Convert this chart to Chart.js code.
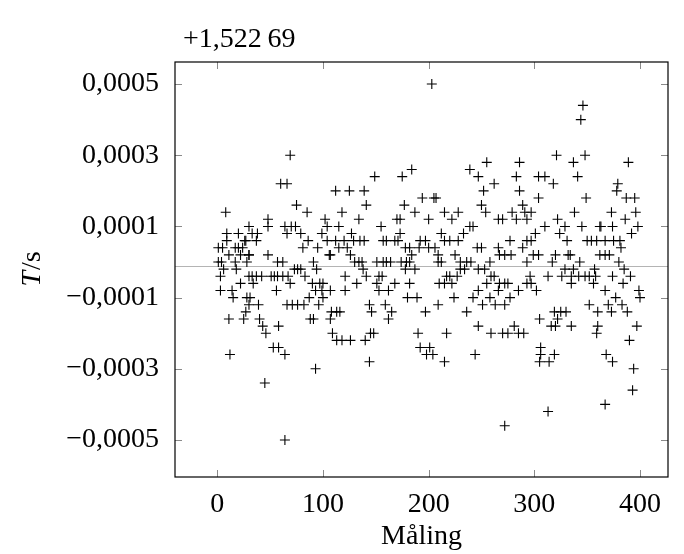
<!DOCTYPE html>
<html><head><meta charset="utf-8">
<script src="https://cdn.jsdelivr.net/npm/chart.js@4.4.0/dist/chart.umd.min.js"></script>
<style>html,body{margin:0;padding:0;background:#fff}canvas{display:block}</style>
</head><body>
<canvas id="c" width="684" height="554"></canvas>
<script>
// Measurement number (x) and deviation from offset, in units of 1e-5 s (y)
const measurement = [
 8,9,20,30,9,27,1,5,17,20,24,11,22,30,1,4,17,28,6,18,3,30,22,3,14,15,30,27,11,25,12,
 69,60,66,48,48,64,33,38,26,37,66,30,48,57,62,51,54,57,62,67,33,37,42,34,56,31,28,39,66,40,43,46,58,53,58,64,45,64,
 75,85,102,104,70,74,79,86,81,95,99,104,106,91,73,76,79,83,94,69,90,97,100,93,99,87,100,96,71,76,82,88,91,93,
 112,125,139,141,118,134,115,127,112,120,129,135,139,115,123,107,126,130,134,137,138,141,121,132,107,121,144,108,113,116,107,109,113,118,126,140,144,
 149,175,177,170,173,155,173,157,160,168,171,178,151,157,160,164,174,179,178,153,156,151,153,162,168,180,159,146,165,162,145,148,
 203,184,194,205,207,187,200,215,212,192,197,206,191,200,215,182,184,209,182,187,209,212,217,215,182,210,189,209,197,190,217,192,201,198,204,215,
 255,239,247,252,250,254,228,222,242,239,233,220,228,246,250,225,230,236,240,230,234,253,247,220,227,222,255,247,242,251,224,236,247,244,
 286,283,262,286,289,291,266,270,279,283,293,277,293,266,289,267,272,278,258,293,259,262,267,272,275,293,266,285,258,277,263,272,259,270,275,281,285,290,272,
 321,304,310,318,304,297,322,329,310,324,301,297,331,299,304,320,332,317,329,296,313,326,297,302,319,325,330,322,305,316,320,306,306,305,314,319,313,
 346,344,348,337,341,349,338,373,345,362,363,374,350,354,359,367,375,334,362,367,371,343,337,357,335,342,348,352,358,374,335,356,367,352,370,360,373,335,360,359,368,374,367,
 377,378,379,380,381,382,383,384,385,386,387,388,389,390,391,392,393,394,395,396,397,398,399,400
];
const deviationE5 = [
 14,8,8,10,6,6,4,4,4,4,4,2,2,2,0,0,0,0,-2,-2,-4,-4,-6,-8,-8,-10,-12,-14,-16,-16,-26,
 30,22,22,12,10,10,8,8,6,6,8,2,2,0,0,-4,-4,-4,-4,-4,-4,-4,-4,-6,-8,-10,-10,-12,-12,-16,-18,-20,-18,-24,-24,-26,-34,-50,
 16,14,12,10,10,10,8,6,4,4,8,6,2,0,-2,-2,-2,-4,-2,-6,-6,-6,-6,-8,-8,-10,-10,-12,-12,-12,-12,-16,-16,-30,
 20,20,20,16,14,12,10,8,6,6,6,6,6,4,4,2,2,0,0,0,-2,-4,-4,-6,-8,-8,-12,-14,-14,-14,-16,-20,-22,-22,-22,-22,-28,
 24,24,16,12,12,10,8,6,6,6,6,4,0,0,0,0,0,0,-2,-4,-4,-6,-8,-8,-6,-10,-12,-14,-14,-16,-20,-20,
 50,26,18,18,18,14,12,14,8,6,6,4,4,4,6,4,2,2,0,-2,0,0,-4,-6,-6,-6,-10,-12,-14,-20,-20,-24,-24,-26,-26,-28,
 28,26,24,20,16,14,14,12,10,10,8,6,6,4,4,2,0,0,0,-2,-2,-2,-2,-4,-4,-6,-6,-8,-10,-12,-10,-14,-18,-26,
 28,24,22,20,16,14,12,12,14,12,12,6,6,4,4,2,2,2,0,0,-4,-4,-6,-6,-6,-6,-8,-8,-10,-10,-12,-12,-20,-20,-20,-18,-20,-20,-46,
 30,24,24,22,18,14,12,10,10,8,8,6,6,2,2,2,2,0,-2,-4,-4,-4,-6,-8,-14,-14,-14,-16,-16,-18,-18,-24,-26,-28,-28,-26,-42,
 44,40,30,28,24,18,14,14,10,10,10,10,6,6,6,6,6,2,2,2,2,0,-2,-2,-4,-4,-4,-4,-4,-4,-6,-6,-8,-12,-12,-14,-14,-18,-18,-20,-26,-28,-40,
 -10,20,22,0,6,4,-12,-6,-2,12,18,-14,28,-22,-4,8,-36,-30,18,14,-18,10,-8,-10
];
const unitE5 = 1e-5;
const meanLevel = -0.00001;
const xTicks = [0, 100, 200, 300, 400];
const xTickLabels = ['0', '100', '200', '300', '400'];
const yTicks = [-0.0005, -0.0003, -0.0001, 0.0001, 0.0003, 0.0005];
const yTickLabels = ['\u22120,0005', '\u22120,0003', '\u22120,0001', '0,0001', '0,0003', '0,0005'];
const offsetLabel = '+1,522\u200969';
const xTitle = 'M\u00e5ling';
const yTitleVar = 'T';
const yTitleUnit = '/s';

const FONT = "'Liberation Serif', 'DejaVu Serif', serif";
const points = measurement.map((m, i) => ({ x: m, y: deviationE5[i] * unitE5 }));

const decor = {
  id: 'decor',
  beforeDatasetsDraw(chart) {
    const { ctx, chartArea: a, scales } = chart;
    const y = Math.round(scales.y.getPixelForValue(meanLevel)) + 0.5;
    ctx.save();
    ctx.strokeStyle = '#b4b4b4';
    ctx.lineWidth = 1;
    ctx.beginPath(); ctx.moveTo(a.left, y); ctx.lineTo(a.right, y); ctx.stroke();
    ctx.restore();
  },
  afterDraw(chart) {
    const { ctx, chartArea: a, scales } = chart;
    ctx.save();
    ctx.strokeStyle = '#8a8a8a';
    ctx.lineWidth = 1;
    const L = 7;
    xTicks.forEach(v => {
      const px = Math.round(scales.x.getPixelForValue(v)) + 0.5;
      ctx.beginPath();
      ctx.moveTo(px, a.bottom); ctx.lineTo(px, a.bottom - L);
      ctx.moveTo(px, a.top); ctx.lineTo(px, a.top + L);
      ctx.stroke();
    });
    yTicks.forEach(v => {
      const py = Math.round(scales.y.getPixelForValue(v)) + 0.5;
      ctx.beginPath();
      ctx.moveTo(a.left, py); ctx.lineTo(a.left + L, py);
      ctx.moveTo(a.right, py); ctx.lineTo(a.right - L, py);
      ctx.stroke();
    });
    ctx.strokeStyle = '#000';
    ctx.lineWidth = 1.2;
    ctx.strokeRect(a.left, a.top, a.right - a.left, a.bottom - a.top);
    ctx.fillStyle = '#000';
    ctx.font = `28px ${FONT}`;
    ctx.textBaseline = 'alphabetic';
    ctx.textAlign = 'left';
    ctx.fillText(offsetLabel, a.left + 8, 47);
    ctx.textAlign = 'center';
    ctx.fillText(xTitle, (a.left + a.right) / 2, 544);
    ctx.translate(40, (a.top + a.bottom) / 2);
    ctx.rotate(-Math.PI / 2);
    ctx.textAlign = 'left';
    ctx.font = `italic 28px ${FONT}`;
    const w1 = ctx.measureText(yTitleVar).width;
    ctx.font = `28px ${FONT}`;
    const w2 = ctx.measureText(yTitleUnit).width;
    const start = -(w1 + w2) / 2;
    ctx.font = `italic 28px ${FONT}`;
    ctx.fillText(yTitleVar, start, 0);
    ctx.font = `28px ${FONT}`;
    ctx.fillText(yTitleUnit, start + w1 + 1, 0);
    ctx.restore();
  }
};

new Chart(document.getElementById('c'), {
  type: 'scatter',
  data: {
    datasets: [{
      data: points,
      pointStyle: 'cross',
      pointRadius: 5,
      pointHoverRadius: 5,
      borderColor: '#000',
      backgroundColor: '#000',
      borderWidth: 1.1
    }]
  },
  options: {
    responsive: false,
    animation: false,
    events: [],
    layout: { padding: { top: 62, right: 16, left: 0, bottom: 0 } },
    plugins: { legend: { display: false }, tooltip: { enabled: false } },
    scales: {
      x: {
        type: 'linear', min: -40, max: 426.5,
        grid: { display: false }, border: { display: false },
        afterBuildTicks: s => { s.ticks = xTicks.map(v => ({ value: v })); },
        afterFit: s => { s.height = 77; },
        ticks: {
          callback: v => xTickLabels[xTicks.indexOf(v)],
          font: { family: FONT, size: 28 }, color: '#000',
          padding: 3, maxRotation: 0, autoSkip: false
        }
      },
      y: {
        type: 'linear', min: -0.000604, max: 0.000562,
        grid: { display: false }, border: { display: false },
        afterBuildTicks: s => { s.ticks = yTicks.map(v => ({ value: v })); },
        afterFit: s => { s.width = 175; },
        ticks: {
          callback: v => yTickLabels[yTicks.indexOf(v)],
          font: { family: FONT, size: 28 }, color: '#000',
          padding: 8, autoSkip: false
        }
      }
    }
  },
  plugins: [decor]
});
</script>
</body></html>
